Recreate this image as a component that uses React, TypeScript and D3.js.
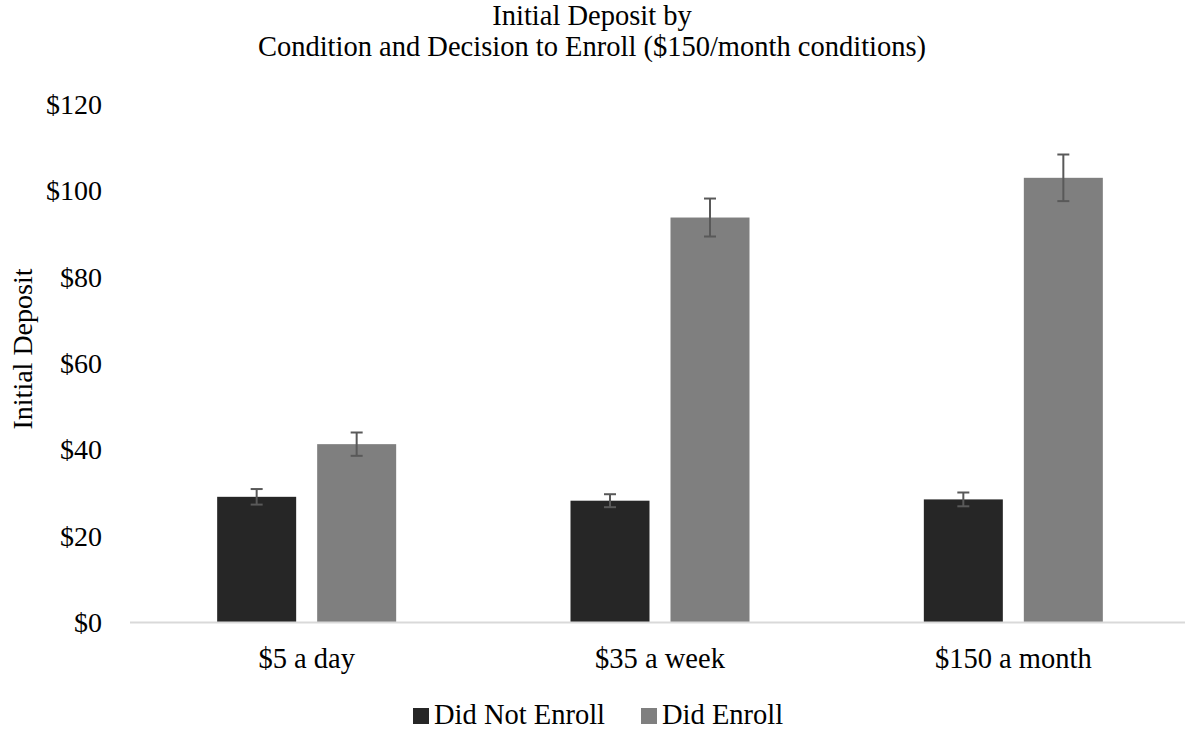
import React from "react";
import * as d3 from "d3";

const categories = ["$5 a day", "$35 a week", "$150 a month"];
const seriesNames = ["Did Not Enroll", "Did Enroll"];
const notEnroll = [29.0, 28.1, 28.4];
const didEnroll = [41.2, 93.7, 102.9];
const notEnrollErr = [1.8, 1.5, 1.6];
const didEnrollErr = [2.7, 4.4, 5.4];
const yTicks = [0, 20, 40, 60, 80, 100, 120];
const colors = ["#262626", "#7f7f7f"];

const W = 1185;
const H = 732;
const FF = "Liberation Serif";
const FS = 28.5;

export default function App() {
  const x = d3.scaleBand<string>().domain(categories).range([130, 1190]).paddingInner(0).paddingOuter(0);
  const y = d3.scaleLinear().domain([0, 120]).range([622, 104]);
  const barW = 79;
  const gap = 21;
  const series = [
    { name: seriesNames[0], values: notEnroll, errs: notEnrollErr, color: colors[0] },
    { name: seriesNames[1], values: didEnroll, errs: didEnrollErr, color: colors[1] },
  ];
  const legendX = [413, 641];
  return (
    <div style={{ position: "absolute", left: 0, top: 0 }}>
      <svg width={W} height={H} fontFamily={FF}>
        <rect x={0} y={0} width={W} height={H} fill="#fff" />
        <text x={592} y={25} textAnchor="middle" fontFamily={FF} fontSize={FS} fill="#000">Initial Deposit by</text>
        <text x={592} y={56} textAnchor="middle" fontFamily={FF} fontSize={FS} fill="#000">Condition and Decision to Enroll ($150/month conditions)</text>
        <text transform="translate(32,349) rotate(-90)" textAnchor="middle" fontFamily={FF} fontSize={28} fill="#000">Initial Deposit</text>
        {yTicks.map((t) => (
          <text key={t} x={102} y={y(t) + 10} textAnchor="end" fontFamily={FF} fontSize={28} fill="#000">{`$${t}`}</text>
        ))}
        {series.map((s, si) =>
          categories.map((c, ci) => {
            const cx = (x(c) as number) + x.bandwidth() / 2;
            const left = si === 0 ? cx - gap / 2 - barW : cx + gap / 2;
            const v = s.values[ci];
            const e = s.errs[ci];
            const mx = left + barW / 2;
            return (
              <g key={`${si}-${ci}`}>
                <rect x={left} y={y(v)} width={barW} height={y(0) - y(v)} fill={s.color} />
                <line x1={mx} x2={mx} y1={y(v + e)} y2={y(v - e)} stroke="#595959" strokeWidth={2} />
                <line x1={mx - 6} x2={mx + 6} y1={y(v + e)} y2={y(v + e)} stroke="#595959" strokeWidth={2} />
                <line x1={mx - 6} x2={mx + 6} y1={y(v - e)} y2={y(v - e)} stroke="#595959" strokeWidth={2} />
              </g>
            );
          })
        )}
        <line x1={130} x2={W} y1={y(0) + 0.5} y2={y(0) + 0.5} stroke="#d9d9d9" strokeWidth={2} />
        {categories.map((c) => (
          <text key={c} x={(x(c) as number) + x.bandwidth() / 2} y={668} textAnchor="middle" fontFamily={FF} fontSize={FS} fill="#000">{c}</text>
        ))}
        {seriesNames.map((n, i) => (
          <g key={n}>
            <rect x={legendX[i]} y={708} width={16} height={16} fill={colors[i]} />
            <text x={legendX[i] + 21} y={724} fontFamily={FF} fontSize={FS} fill="#000">{n}</text>
          </g>
        ))}
      </svg>
    </div>
  );
}
